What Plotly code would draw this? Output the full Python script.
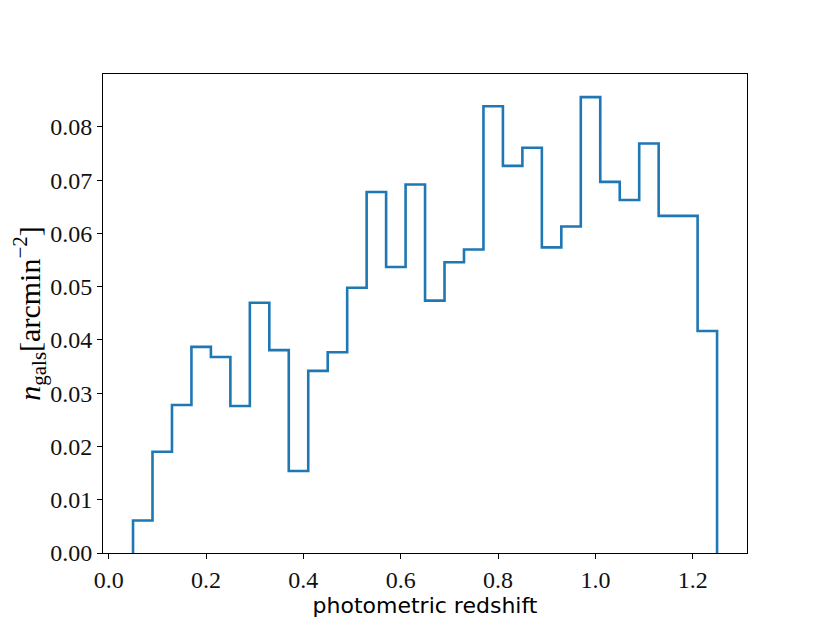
import plotly.graph_objects as go

# histogram bin edges (photometric redshift) and surface density per bin
BIN_EDGES = [0.05, 0.09, 0.13, 0.17, 0.21, 0.25, 0.29, 0.33, 0.37, 0.41,
             0.45, 0.49, 0.53, 0.57, 0.61, 0.65, 0.69, 0.73, 0.77, 0.81,
             0.85, 0.89, 0.93, 0.97, 1.01, 1.05, 1.09, 1.13, 1.17, 1.21, 1.25]
N_GALS = [0.0061, 0.0190, 0.0278, 0.0387, 0.0368, 0.0276, 0.0470, 0.0381,
          0.0154, 0.0342, 0.0377, 0.0498, 0.0678, 0.0537, 0.0692, 0.0474,
          0.0546, 0.0570, 0.0839, 0.0727, 0.0761, 0.0574, 0.0613, 0.0856,
          0.0697, 0.0663, 0.0769, 0.0633, 0.0633, 0.0417]

X_TICKS = [0.0, 0.2, 0.4, 0.6, 0.8, 1.0, 1.2]
Y_TICKS = [0.00, 0.01, 0.02, 0.03, 0.04, 0.05, 0.06, 0.07, 0.08]

# step outline like matplotlib histtype="step"
xs = [BIN_EDGES[0]] + BIN_EDGES[:-1] + [BIN_EDGES[-1]]
ys = [0] + N_GALS + [0]

SERIF = "Liberation Serif"

fig = go.Figure()
fig.add_trace(go.Scatter(
    x=xs, y=ys, mode="lines", line_shape="hv",
    line=dict(color="#1f77b4", width=2.6),
    hoverinfo="skip", showlegend=False,
))

axis_common = dict(
    showgrid=False, zeroline=False, showline=True, linecolor="black",
    linewidth=1, mirror=True, ticks="outside", ticklen=5, tickwidth=1,
    tickcolor="black", tickfont=dict(family=SERIF, size=24, color="#111111"),
)
fig.update_xaxes(
    range=[-0.0117, 1.3115], tickvals=X_TICKS,
    ticktext=[f"{v:.1f}" for v in X_TICKS],
    title=dict(text="photometric redshift",
               font=dict(family="DejaVu Sans", size=22, color="black"),
               standoff=0),
    **axis_common,
)
fig.update_yaxes(
    range=[0, 0.08995], tickvals=Y_TICKS,
    ticktext=[f"{v:.2f}" for v in Y_TICKS],
    title=dict(text="<i>n</i><sub>gals</sub>[arcmin<sup>\u22122</sup>]",
               font=dict(family=SERIF, size=30, color="black"),
               standoff=4),
    **axis_common,
)
# the page body adds an 8px offset, so margins are shifted to compensate
fig.update_layout(
    width=830, height=623,
    margin=dict(l=95, r=91, t=66, b=78, autoexpand=False),
    paper_bgcolor="white", plot_bgcolor="white",
)
fig.write_html("out.html")
